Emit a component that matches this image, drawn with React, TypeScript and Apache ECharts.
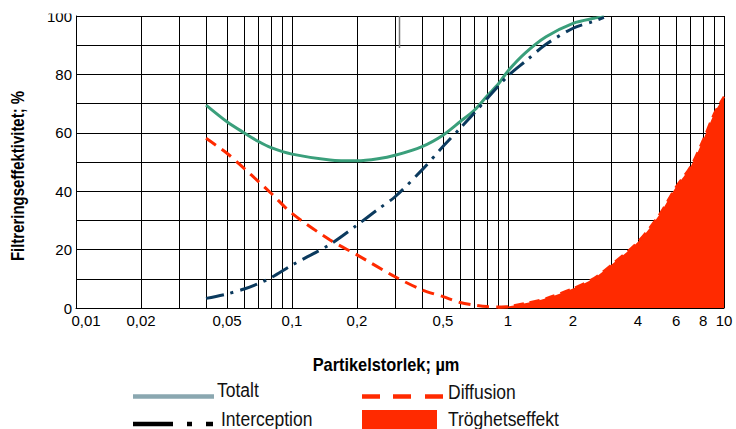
import React, { useEffect, useRef } from "react";
import * as echarts from "echarts";

// ---- data ----
const totaltData: [number, number][] = [
  [0.04, 69.5], [0.05, 63.8], [0.06, 60], [0.07, 57], [0.08, 54.9], [0.1, 52.7],
  [0.15, 50.7], [0.2, 50.4], [0.25, 51.1], [0.3, 52.3], [0.4, 55.3], [0.5, 59.2],
  [0.6, 63.8], [0.7, 67.8], [0.8, 72.6], [0.9, 76.6], [1, 81.2], [1.2, 87.3],
  [1.5, 92.9], [2, 97.5], [2.5, 99.2], [2.78, 99.7],
];
const interceptionData: [number, number][] = [
  [0.04, 3.3], [0.05, 4.8], [0.06, 6.5], [0.07, 8.4], [0.08, 10.4], [0.1, 14.7],
  [0.15, 21.8], [0.2, 28.4], [0.25, 33.8], [0.3, 38.1], [0.4, 47.3], [0.5, 55.3],
  [0.6, 61.5], [0.7, 66.9], [0.8, 71.7], [1, 79.5], [1.2, 84.4], [1.5, 90.3],
  [2, 95.8], [2.5, 98.2], [2.78, 99.5],
];
const diffusionData: [number, number][] = [
  [0.04, 58.1], [0.05, 53], [0.06, 47.8], [0.07, 43.3], [0.08, 39.3], [0.1, 32.4],
  [0.15, 23.3], [0.2, 18.2], [0.3, 10.7], [0.4, 6.2], [0.5, 3.9], [0.6, 1.9],
  [0.7, 1.0], [0.8, 0.5], [1.0, 0.3],
];
const troghetData: [number, number][] = [
  [0.9, 0.2], [1.0, 0.5], [1.2, 1.6], [1.5, 3.3], [2, 6.7], [2.5, 10.2], [3, 14.7],
  [4, 22.7], [5, 31.8], [6, 41.5], [7, 48.4], [8, 57.5], [9, 66.5], [10, 72.4],
];
const gridValues = [
  0.01, 0.02, 0.03, 0.04, 0.05, 0.06, 0.07, 0.08, 0.09,
  0.1, 0.2, 0.3, 0.4, 0.5, 0.6, 0.7, 0.8, 0.9,
  1, 2, 3, 4, 5, 6, 7, 8, 9, 10,
];
const tickValues = [0.01, 0.02, 0.05, 0.1, 0.2, 0.5, 1, 2, 4, 6, 8, 10];
const tickLabels = ["0,01", "0,02", "0,05", "0,1", "0,2", "0,5", "1", "2", "4", "6", "8", "10"];

const GREEN = "#3a9f7b";
const NAVY = "#0b3a5e";
const RED = "#ff2a00";
const FONT = "'Liberation Sans', Arial, sans-serif";

export default function App() {
  const ref = useRef<HTMLDivElement>(null);
  useEffect(() => {
    if (!ref.current) return;
    const chart = echarts.init(ref.current, undefined, { renderer: "svg" });
    const markData = gridValues.map((v) => {
      const idx = tickValues.indexOf(v);
      const item: any = { xAxis: v };
      if (idx >= 0) {
        item.label = {
          show: true,
          position: "start",
          formatter: tickLabels[idx],
          color: "#000",
          fontSize: 15,
          fontFamily: FONT,
          distance: 5,
          offset: v === 0.01 ? [10, 0] : [0, 0],
        };
      }
      return item;
    });
    const legText = (text: string, x: number, y: number) => ({
      type: "text",
      x,
      y,
      scaleX: 0.875,
      style: { text, fill: "#111", fontSize: 20, fontFamily: FONT, align: "left", verticalAlign: "middle" },
    });
    const option: any = {
      animation: false,
      backgroundColor: "#fff",
      grid: { left: 76, right: 12, top: 16, bottom: 121, containLabel: false },
      xAxis: {
        type: "log",
        logBase: 10,
        min: 0.01,
        max: 10,
        axisLine: { show: true, lineStyle: { color: "#000", width: 1 } },
        axisTick: { show: false },
        axisLabel: { show: false },
        splitLine: { show: false },
      },
      yAxis: {
        type: "value",
        min: 0,
        max: 100,
        interval: 10,
        axisLine: { show: true, lineStyle: { color: "#000", width: 1 } },
        axisTick: { show: false },
        axisLabel: {
          color: "#000",
          fontSize: 15,
          fontFamily: FONT,
          margin: 4,
          formatter: (v: number) => (v % 20 === 0 ? String(v) : ""),
        },
        splitLine: { show: true, lineStyle: { color: "#000", width: 1 } },
      },
      series: [
        {
          type: "line",
          name: "grid",
          data: [],
          z: 1,
          silent: true,
          markLine: {
            z: 1,
            silent: true,
            symbol: ["none", "none"],
            animation: false,
            lineStyle: { color: "#000", width: 1, type: "solid" },
            label: { show: false },
            emphasis: { disabled: true },
            data: markData,
          },
        },
        {
          type: "line",
          name: "Tröghetseffekt",
          data: troghetData,
          smooth: 0.3,
          showSymbol: false,
          z: 6,
          lineStyle: { color: RED, width: 2.5, type: [10, 6] },
          areaStyle: { color: RED, opacity: 1 },
        },
        {
          type: "line",
          name: "Totalt",
          data: totaltData,
          smooth: 0.3,
          showSymbol: false,
          z: 7,
          lineStyle: { color: GREEN, width: 3 },
        },
        {
          type: "line",
          name: "Diffusion",
          data: diffusionData,
          smooth: 0.3,
          showSymbol: false,
          z: 8,
          lineStyle: { color: RED, width: 3, type: [12, 7] },
        },
        {
          type: "line",
          name: "Interception",
          data: interceptionData,
          smooth: 0.3,
          showSymbol: false,
          z: 9,
          lineStyle: { color: NAVY, width: 3, type: [18, 7, 3, 7] },
        },
      ],
      graphic: [
        { type: "rect", shape: { x: 0, y: 0, width: 75, height: 13.5 }, style: { fill: "#fff" }, z: 100 },
        { type: "line", shape: { x1: 399.5, y1: 16, x2: 399.5, y2: 48 }, style: { stroke: "#777", lineWidth: 1.5 }, z: 100 },
        {
          type: "text",
          x: 18,
          y: 176,
          rotation: Math.PI / 2,
          scaleX: 0.83,
          style: {
            text: "Filtreringseffektivitet; %",
            fill: "#000",
            fontSize: 18,
            fontWeight: "bold",
            fontFamily: FONT,
            align: "center",
            verticalAlign: "middle",
          },
        },
        {
          type: "text",
          x: 386,
          y: 365,
          scaleX: 0.91,
          style: {
            text: "Partikelstorlek; µm",
            fill: "#000",
            fontSize: 18,
            fontWeight: "bold",
            fontFamily: FONT,
            align: "center",
            verticalAlign: "middle",
          },
        },
        // legend: Totalt
        { type: "line", shape: { x1: 133, y1: 396.5, x2: 214, y2: 396.5 }, style: { stroke: "#8aa7b0", lineWidth: 4.5 } },
        legText("Totalt", 217, 390),
        // legend: Interception
        { type: "line", shape: { x1: 133, y1: 424, x2: 173, y2: 424 }, style: { stroke: "#000", lineWidth: 4.5 } },
        { type: "line", shape: { x1: 187, y1: 424, x2: 192, y2: 424 }, style: { stroke: "#000", lineWidth: 4.5 } },
        { type: "line", shape: { x1: 206, y1: 424, x2: 213, y2: 424 }, style: { stroke: "#000", lineWidth: 4.5 } },
        legText("Interception", 221, 419),
        // legend: Diffusion
        { type: "line", shape: { x1: 362, y1: 396.5, x2: 380, y2: 396.5 }, style: { stroke: RED, lineWidth: 4.5 } },
        { type: "line", shape: { x1: 393, y1: 396.5, x2: 411, y2: 396.5 }, style: { stroke: RED, lineWidth: 4.5 } },
        { type: "line", shape: { x1: 425, y1: 396.5, x2: 443, y2: 396.5 }, style: { stroke: RED, lineWidth: 4.5 } },
        legText("Diffusion", 448, 392),
        // legend: Tröghetseffekt
        { type: "rect", shape: { x: 362, y: 410, width: 75, height: 19 }, style: { fill: RED } },
        legText("Tröghetseffekt", 448, 419),
      ],
    };
    chart.setOption(option);
    return () => chart.dispose();
  }, []);
  return <div ref={ref} style={{ width: 736, height: 429, position: "absolute", left: 0, top: 0 }} />;
}
